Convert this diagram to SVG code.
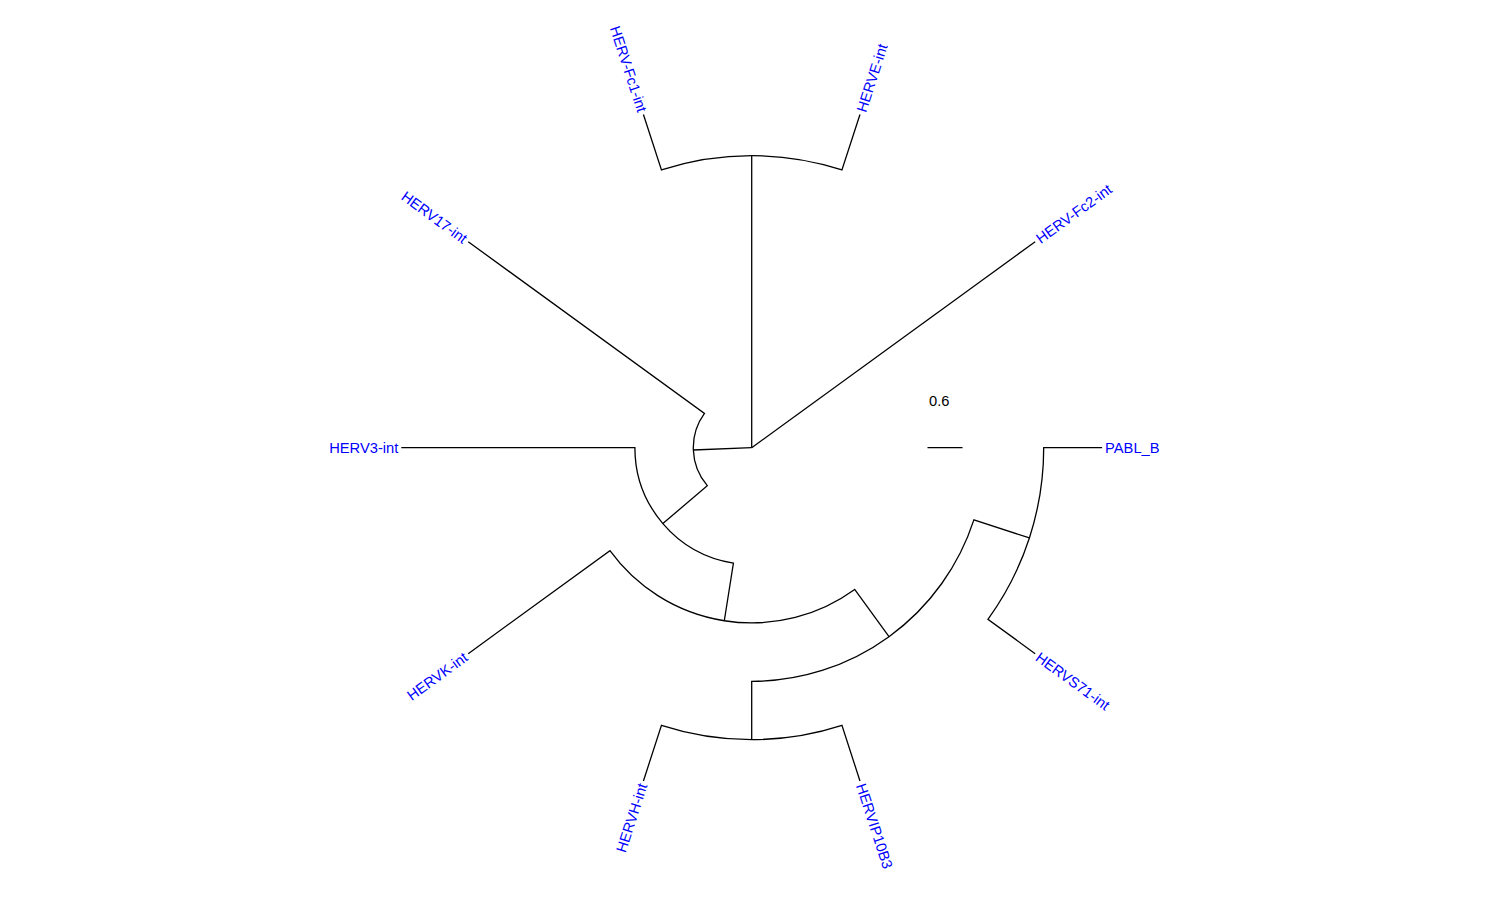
<svg xmlns="http://www.w3.org/2000/svg" width="1500" height="900" viewBox="0 0 1500 900">
<style>
.e{fill:none;stroke:#000;stroke-width:1.3;stroke-linecap:butt;stroke-linejoin:miter}
.lab{font-family:"Liberation Sans",Arial,sans-serif;font-size:14.7px;fill:#0000FF}
.lr{text-anchor:start}
.ll{text-anchor:end}
.sc{font-family:"Liberation Sans",Arial,sans-serif;font-size:14.7px;fill:#000}
</style>
<rect width="1500" height="900" fill="#fff"/>
<g transform="translate(751.7,447.7)">
<g id="connectors">
<path class="e" d="M0,0 L283.480,-205.960"/>
<path class="e" d="M0,0 L0,-292"/>
<path class="e" d="M0,0 L-58.355,2.293"/>
<path class="e" d="M108.279,-333.250 L90.233,-277.709 A292,292 0 0 0 -90.233,-277.709 L-108.279,-333.250"/>
<path class="e" d="M-283.480,-205.960 L-47.247,-34.327 A58.4,58.4 0 0 0 -44.408,37.928 L-88.815,75.856"/>
<path class="e" d="M-350.4,0 L-116.8,0 A116.8,116.8 0 0 0 -18.272,115.362 L-27.407,173.043"/>
<path class="e" d="M-283.480,205.960 L-141.740,102.980 A175.2,175.2 0 0 0 102.980,141.740 L137.307,188.986"/>
<path class="e" d="M0,292 L0,233.6 A233.6,233.6 0 0 0 222.167,72.186 L277.709,90.233"/>
<path class="e" d="M-108.279,333.250 L-90.233,277.709 A292,292 0 0 0 90.233,277.709 L108.279,333.250"/>
<path class="e" d="M283.480,205.960 L236.233,171.633 A292,292 0 0 0 292,0 L350.4,0"/>
</g>
<g id="PABL_B"><text class="lab lr" transform="rotate(0) translate(353.4,0)" dy="0.36em">PABL_B</text></g>
<g id="HERVS71-int"><text class="lab lr" transform="rotate(36) translate(353.4,0)" dy="0.36em">HERVS71-int</text></g>
<g id="HERVIP10B3"><text class="lab lr" transform="rotate(72) translate(353.4,0)" dy="0.36em">HERVIP10B3</text></g>
<g id="HERVH-int"><text class="lab ll" transform="rotate(-72) translate(-353.4,0)" dy="0.36em">HERVH-int</text></g>
<g id="HERVK-int"><text class="lab ll" transform="rotate(-36) translate(-353.4,0)" dy="0.36em">HERVK-int</text></g>
<g id="HERV3-int"><text class="lab ll" transform="rotate(0) translate(-353.4,0)" dy="0.36em">HERV3-int</text></g>
<g id="HERV17-int"><text class="lab ll" transform="rotate(36) translate(-353.4,0)" dy="0.36em">HERV17-int</text></g>
<g id="HERV-Fc1-int"><text class="lab ll" transform="rotate(72) translate(-353.4,0)" dy="0.36em">HERV-Fc1-int</text></g>
<g id="HERVE-int"><text class="lab lr" transform="rotate(-72) translate(353.4,0)" dy="0.36em">HERVE-int</text></g>
<g id="HERV-Fc2-int"><text class="lab lr" transform="rotate(-36) translate(353.4,0)" dy="0.36em">HERV-Fc2-int</text></g>
</g>
<g id="scale-bar">
<line class="e" x1="927.5" y1="447.7" x2="962.5" y2="447.7"/>
<text class="sc" x="929" y="406">0.6</text>
</g>
</svg>
